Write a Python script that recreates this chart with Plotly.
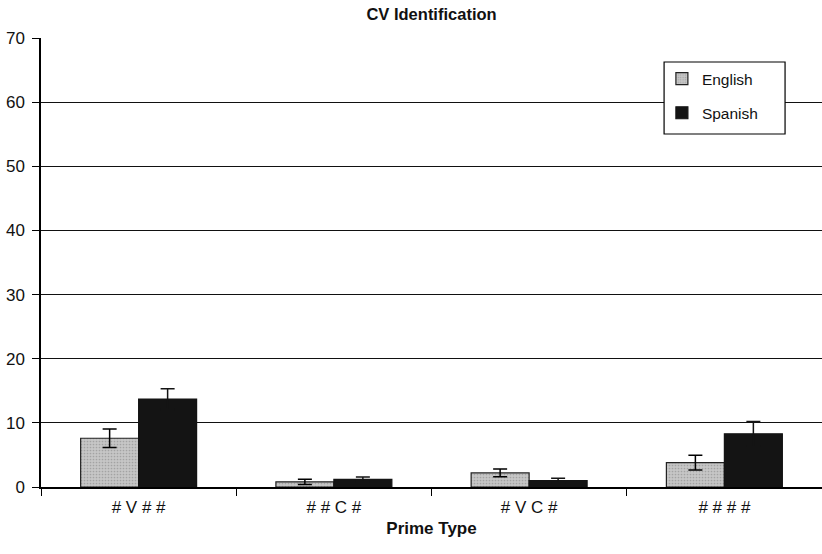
import plotly.graph_objects as go

categories = ["# V # #", "# # C #", "# V C #", "# # # #"]
english = [7.6, 0.8, 2.2, 3.8]
english_err = [1.45, 0.4, 0.6, 1.15]
spanish = [13.7, 1.2, 1.0, 8.3]
spanish_err = [1.6, 0.35, 0.35, 1.9]

FONT = "Arial"

fig = go.Figure()
fig.add_trace(go.Bar(
    name="English", x=categories, y=english, legendgroup="e",
    marker=dict(color="#bdbdbd", line=dict(color="#222", width=1.2),
                pattern=dict(shape=".", bgcolor="#c6c6c6", fgcolor="#808080", size=3, solidity=0.25)),
    error_y=dict(type="data", array=english_err, color="black", thickness=1.5, width=7),
))
fig.add_trace(go.Bar(
    name="Spanish", x=categories, y=spanish, legendgroup="s",
    marker=dict(color="#141414", line=dict(color="#141414", width=1.2)),
    error_y=dict(type="data", array=spanish_err, color="#141414", thickness=1.5, width=7),
))

# legend frame
fig.add_shape(type="rect", xref="paper", yref="paper",
              x0=0.7978, x1=0.9527, y0=0.7862, y1=0.9465,
              line=dict(color="black", width=1.2), fillcolor="white", layer="above")

fig.update_layout(
    width=822, height=554,
    margin=dict(l=40.5, r=0, t=38, b=67),
    paper_bgcolor="white", plot_bgcolor="white",
    barmode="group", bargap=0.406, bargroupgap=0,
    font=dict(family=FONT, size=17, color="#111"),
    title=dict(text="<b>CV Identification</b>", x=0.525, xanchor="center", y=0.975, yanchor="middle",
               font=dict(family=FONT, size=16.5, color="#111")),
    legend=dict(x=0.795, y=0.9465, xanchor="left", yanchor="top",
                borderwidth=0, bgcolor="rgba(0,0,0,0)",
                font=dict(family=FONT, size=15.5, color="#111"), tracegroupgap=11),
    showlegend=True,
)
fig.update_xaxes(
    range=[-0.5, 3.5], showline=True, linecolor="black", linewidth=1.5,
    ticks="outside", tickson="boundaries", ticklen=7, tickcolor="black", tickwidth=1,
    showgrid=False, tickfont=dict(family=FONT, size=17), ticklabelstandoff=4,
    title=dict(text="<b>Prime Type</b>", font=dict(family=FONT, size=17), standoff=6),
)
fig.update_yaxes(
    range=[0, 70], dtick=10, showline=True, linecolor="black", linewidth=1.5,
    ticks="outside", ticklen=7, tickcolor="black", tickwidth=1,
    showgrid=True, gridcolor="#111", gridwidth=1.2, zeroline=False,
    tickfont=dict(family=FONT, size=17), ticklabelstandoff=4,
)

fig.write_html("out.html")
